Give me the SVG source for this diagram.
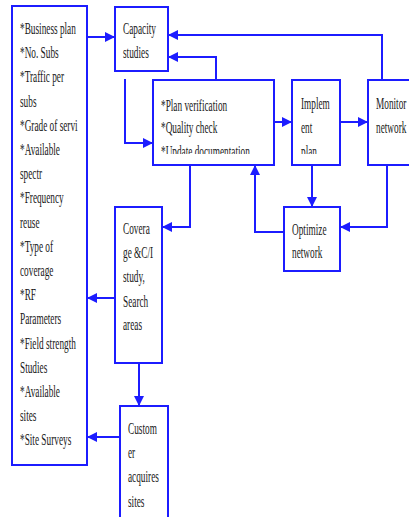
<svg xmlns="http://www.w3.org/2000/svg" width="409" height="517" viewBox="0 0 409 517">
<style>
.box{fill:#fff;stroke:#1c1cff;stroke-width:2}
.c{fill:none;stroke:#1c1cff;stroke-width:2}
.t{font-family:"Liberation Serif","Times New Roman",serif;font-size:16px;fill:#1a1a1a}
</style>
<defs>
<marker id="a" markerUnits="userSpaceOnUse" markerWidth="10" markerHeight="10" viewBox="0 0 10 10" refX="10" refY="5" orient="auto">
<path d="M0,0 L10,5 L0,10 Z" fill="#1c1cff"/>
</marker>
<clipPath id="cp1"><rect x="150" y="80" width="130" height="74"/></clipPath>
<clipPath id="cp2"><rect x="290" y="80" width="50" height="74"/></clipPath>
</defs>
<rect width="409" height="517" fill="#fff"/>
<g id="inputs">
<rect class="box" x="12" y="6" width="75" height="459"/>
<text class="t" transform="translate(20,0) scale(0.58,1)">
<tspan x="0" y="34">*Business plan</tspan>
<tspan x="0" y="58">*No. Subs</tspan>
<tspan x="0" y="82">*Traffic per</tspan>
<tspan x="0" y="107">subs</tspan>
<tspan x="0" y="131">*Grade of servi</tspan>
<tspan x="0" y="155">*Available</tspan>
<tspan x="0" y="179">spectr</tspan>
<tspan x="0" y="203">*Frequency</tspan>
<tspan x="0" y="228">reuse</tspan>
<tspan x="0" y="252">*Type of</tspan>
<tspan x="0" y="276">coverage</tspan>
<tspan x="0" y="300">*RF</tspan>
<tspan x="0" y="324">Parameters</tspan>
<tspan x="0" y="349">*Field strength</tspan>
<tspan x="0" y="373">Studies</tspan>
<tspan x="0" y="397">*Available</tspan>
<tspan x="0" y="421">sites</tspan>
<tspan x="0" y="445">*Site Surveys</tspan>
</text>
</g>
<g id="capacity">
<rect class="box" x="115" y="7" width="53" height="64"/>
<text class="t" transform="translate(123,0) scale(0.58,1)">
<tspan x="0" y="34">Capacity</tspan>
<tspan x="0" y="58">studies</tspan>
</text>
</g>
<g id="plan">
<rect class="box" x="153" y="80" width="121" height="85"/>
<g clip-path="url(#cp1)">
<text class="t" transform="translate(161,0) scale(0.58,1)">
<tspan x="0" y="111">*Plan verification</tspan>
<tspan x="0" y="133">*Quality check</tspan>
<tspan x="0" y="157">*Update documentation</tspan>
</text>
</g>
</g>
<g id="implement">
<rect class="box" x="292" y="80" width="48" height="85"/>
<g clip-path="url(#cp2)">
<text class="t" transform="translate(301,0) scale(0.58,1)">
<tspan x="0" y="109">Implem</tspan>
<tspan x="0" y="133">ent</tspan>
<tspan x="0" y="157">plan</tspan>
</text>
</g>
</g>
<g id="monitor">
<rect class="box" x="368" y="80" width="45" height="85"/>
<text class="t" transform="translate(376,0) scale(0.58,1)">
<tspan x="0" y="109">Monitor</tspan>
<tspan x="0" y="133">network</tspan>
</text>
</g>
<g id="optimize">
<rect class="box" x="284" y="207" width="56" height="64"/>
<text class="t" transform="translate(292,0) scale(0.58,1)">
<tspan x="0" y="235">Optimize</tspan>
<tspan x="0" y="258">network</tspan>
</text>
</g>
<g id="coverage">
<rect class="box" x="115" y="207" width="47" height="156"/>
<text class="t" transform="translate(123,0) scale(0.58,1)">
<tspan x="0" y="234">Covera</tspan>
<tspan x="0" y="258">ge &amp;C/I</tspan>
<tspan x="0" y="282">study,</tspan>
<tspan x="0" y="307">Search</tspan>
<tspan x="0" y="330">areas</tspan>
</text>
</g>
<g id="customer">
<rect class="box" x="120" y="406" width="48" height="112"/>
<text class="t" transform="translate(128,0) scale(0.58,1)">
<tspan x="0" y="434">Custom</tspan>
<tspan x="0" y="458">er</tspan>
<tspan x="0" y="482">acquires</tspan>
<tspan x="0" y="507">sites</tspan>
</text>
</g>
<g id="connectors">
<path class="c" d="M87,37 H115" marker-end="url(#a)"/>
<path class="c" d="M382,80 V35 H168" marker-end="url(#a)"/>
<path class="c" d="M216,80 V57 H168" marker-end="url(#a)"/>
<path class="c" d="M125,79 V143 H153" marker-end="url(#a)"/>
<path class="c" d="M274,122 H292" marker-end="url(#a)"/>
<path class="c" d="M340,122 H368" marker-end="url(#a)"/>
<path class="c" d="M312,165 V207" marker-end="url(#a)"/>
<path class="c" d="M387,165 V227 H340" marker-end="url(#a)"/>
<path class="c" d="M284,232 H255 V165" marker-end="url(#a)"/>
<path class="c" d="M190,165 V227 H162" marker-end="url(#a)"/>
<path class="c" d="M115,298 H87" marker-end="url(#a)"/>
<path class="c" d="M139,363 V406" marker-end="url(#a)"/>
<path class="c" d="M120,437 H87" marker-end="url(#a)"/>
</g>
</svg>
